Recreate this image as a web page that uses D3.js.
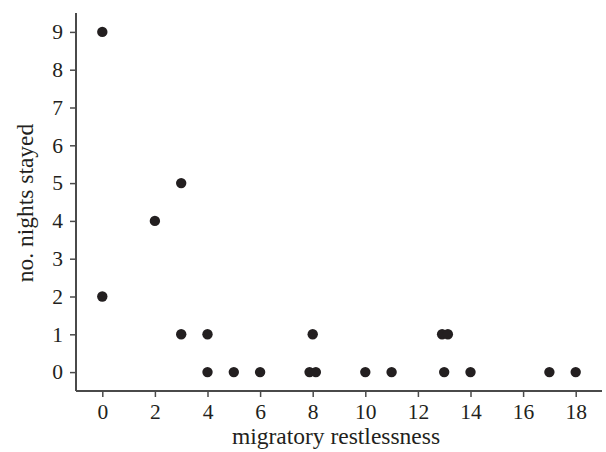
<!DOCTYPE html>
<html>
<head>
  <meta charset="utf-8">
  <style>
    body { margin: 0; background: #fff; }
    text { font-family: "Liberation Serif", "Times New Roman", serif; fill: #231f20; }
  </style>
</head>
<body>
  <div id="plot"></div>
  <script src="https://cdn.jsdelivr.net/npm/d3@7"></script>
  <script>
    // migratory restlessness (x) vs nights stayed (y); small offsets where points overlap
    const restlessness = [0, 0, 2, 3, 3, 4, 4, 5, 6, 8, 7.88, 8.12, 10, 11, 12.92, 13.14, 13, 14, 17, 18];
    const nightsStayed = [9, 2, 4, 5, 1, 1, 0, 0, 0, 1, 0, 0, 0, 0, 1, 1, 0, 0, 0, 0];
    const xTicks = [0, 2, 4, 6, 8, 10, 12, 14, 16, 18];
    const yTicks = [0, 1, 2, 3, 4, 5, 6, 7, 8, 9];

    const svgWidth = 606, svgHeight = 452;
    const margin = {top: 13, right: 4, bottom: 61, left: 76};
    const width = svgWidth - margin.left - margin.right;
    const height = svgHeight - margin.top - margin.bottom;

    function translate(x, y) { return 'translate(' + x + ',' + y + ')'; }

    const svg = d3.select('#plot').append('svg')
        .attr('width', svgWidth)
        .attr('height', svgHeight)
      .append('g')
        .attr('transform', translate(margin.left, margin.top));

    const x = d3.scaleLinear().domain([-1, 19]).range([0, width]);
    const y = d3.scaleLinear().domain([-0.5, 9.5]).range([height, 0]);

    const xAxis = svg.append('g')
        .attr('transform', translate(0, height))
        .call(d3.axisBottom(x).tickValues(xTicks).tickSize(6).tickPadding(7));
    const yAxis = svg.append('g')
        .call(d3.axisLeft(y).tickValues(yTicks).tickSize(6).tickPadding(7));

    [xAxis, yAxis].forEach(function (g) {
      g.attr('font-family', null).attr('font-size', null);
      g.selectAll('path').attr('stroke', '#4a4a4a').attr('stroke-width', 2);
      g.selectAll('line').attr('stroke', '#4a4a4a').attr('stroke-width', 1.5);
      g.selectAll('text').style('font-size', '21.5px').attr('fill', '#231f20');
    });
    xAxis.select('.domain').attr('d', 'M0,0H' + width);
    yAxis.select('.domain').attr('d', 'M0,' + height + 'V0');

    svg.selectAll('circle')
      .data(restlessness)
      .enter()
        .append('circle')
        .attr('cx', d => x(d))
        .attr('cy', (d, i) => y(nightsStayed[i]))
        .attr('r', 5.2)
        .attr('fill', '#231f20');

    svg.append('text')
        .attr('x', width / 2 - 3)
        .attr('y', height + 53)
        .attr('text-anchor', 'middle')
        .style('font-size', '23.5px')
        .text('migratory restlessness');

    svg.append('text')
        .attr('transform', translate(-43, height / 2 + 1) + ' rotate(-90)')
        .attr('text-anchor', 'middle')
        .style('font-size', '23.5px')
        .text('no. nights stayed');
  </script>
</body>
</html>
